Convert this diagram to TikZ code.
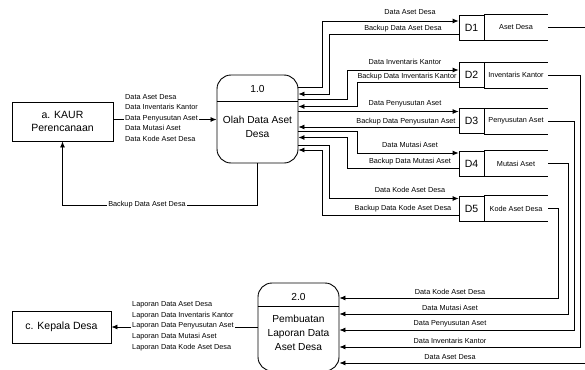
\documentclass[tikz,border=0pt]{standalone}
\usepackage{fontspec}
\setmainfont{Liberation Sans}
\usetikzlibrary{arrows.meta,calc}

\tikzset{
  proc/.style={draw, line width=0.9pt, rounded corners=14pt, minimum width=81pt, minimum height=88pt, inner sep=0pt},
  ent/.style={draw, line width=0.9pt, align=center, inner sep=0pt, font=\fontsize{10.5}{13.5}\selectfont},
  ptext/.style={align=center, inner sep=0pt, font=\fontsize{10.2}{13.5}\selectfont},
  sid/.style={draw, line width=0.8pt, minimum width=25pt, minimum height=25pt, inner sep=0pt, font=\fontsize{10.5}{12}\selectfont},
  sname/.style={minimum width=64pt, inner sep=0pt, font=\fontsize{7.3}{8}\selectfont},
  lbl/.style={inner sep=1pt, font=\fontsize{7.3}{8}\selectfont},
  wire/.style={line width=0.8pt},
  flow/.style={line width=0.8pt, -{Latex[length=6pt,width=5pt]}},
}

\begin{document}
\begin{tikzpicture}[x=1pt, y=-1pt]

\useasboundingbox (0,0) rectangle (585,369);

\node[ent, minimum width=101pt, minimum height=39pt] (kaur) at (62.5,121.5) {a. KAUR\\Perencanaan};
\node[ent, minimum width=99pt, minimum height=32pt] (kepala) at (61.5,327) {c. Kepala Desa};

\node[proc] (olah) at (257.5,119) {};
\draw[wire] (olah.west |- 0,101) -- (olah.east |- 0,101);
\node[ptext] (olahid) at (257.5,89) {1.0};
\node[ptext] (olahtx) at (257.5,127) {Olah Data Aset\\Desa};

\node[proc] (lap) at (298.5,327) {};
\draw[wire] (lap.west |- 0,306) -- (lap.east |- 0,306);
\node[ptext] (lapid) at (298.5,297) {2.0};
\node[ptext, font=\fontsize{10.2}{14}\selectfont] (laptx) at (298.5,333) {Pembuatan\\Laporan Data\\Aset Desa};

\foreach \i/\y/\nm in {1/27.5/Aset Desa, 2/75/Inventaris Kantor, 3/121/Penyusutan Aset, 4/163.5/Mutasi Aset, 5/208.5/Kode Aset Desa}
{
    \node[sid] (d\i) at (471.5,\y) {D\i};
    \node[sname] (n\i) at (516,\y) {\nm};
    \draw[wire] (d\i.north east) -- ++(64,0);
    \draw[wire] (d\i.south east) -- ++(64,0);
}

\draw[flow] (kaur.east |- 0,119.5) -- (olah.west |- 0,119.5);
\node[lbl, fill=white, anchor=west, align=left, font=\fontsize{7.3}{10.5}\selectfont] (inlbl) at (124,118)
    {Data Aset Desa\\Data Inventaris Kantor\\Data Penyusutan Aset\\Data Mutasi Aset\\Data Kode Aset Desa};

\draw[flow] (olah.south) -- ++(0,42) -| (kaur.south);
\node[lbl, fill=white] (bklbl) at (147,205) {Backup Data Aset Desa};

\draw[flow] (olah.east |- 0,87) -| (322,21) -- (d1.west |- 0,21);
\draw[flow] (d1.west |- 0,34) -| (329,94) -- (olah.east |- 0,94);
\draw[flow] (olah.east |- 0,99.5) -| (347,70) -- (d2.west |- 0,70);
\draw[flow] (d2.west |- 0,82.5) -| (357,106.5) -- (olah.east |- 0,106.5);
\draw[flow] (olah.east |- 0,111.5) -- (d3.west |- 0,111.5);
\draw[flow] (d3.west |- 0,127) -- (olah.east |- 0,127);
\draw[flow] (olah.east |- 0,131) -| (357,153) -- (d4.west |- 0,153);
\draw[flow] (d4.west |- 0,168.5) -| (347,137.5) -- (olah.east |- 0,137.5);
\draw[flow] (olah.east |- 0,145) -| (329,198.5) -- (d5.west |- 0,198.5);
\draw[flow] (d5.west |- 0,215.5) -| (322,150) -- (olah.east |- 0,150);

\node[lbl] (f1) at (410,12.5) {Data Aset Desa};
\node[lbl] (b1) at (403,29) {Backup Data Aset Desa};
\node[lbl] (f2) at (405,61.5) {Data Inventaris Kantor};
\node[lbl] (b2) at (407,76.5) {Backup Data Inventaris Kantor};
\node[lbl] (f3) at (405,104) {Data Penyusutan Aset};
\node[lbl] (b3) at (406,121.5) {Backup Data Penyusutan Aset};
\node[lbl] (f4) at (410,145) {Data Mutasi Aset};
\node[lbl] (b4) at (410,162) {Backup Data Mutasi Aset};
\node[lbl] (f5) at (410,190) {Data Kode Aset Desa};
\node[lbl] (b5) at (403,208.5) {Backup Data Kode Aset Desa};

\foreach \i/\vx/\by/\txt in {5/558/298/Data Kode Aset Desa, 4/568/314/Data Mutasi Aset, 3/574/330/Data Penyusutan Aset, 2/580/347/Data Inventaris Kantor, 1/588/363/Data Aset Desa}
{
    \draw[flow] (n\i.east) -| (\vx,\by) -- (lap.east |- 0,\by);
    \node[lbl] (r\i) at (450,\by-6) {\txt};
}

\draw[flow] (lap.west |- kepala.east) -- (kepala.east);
\node[lbl, fill=white, anchor=west, align=left, font=\fontsize{7.3}{10.75}\selectfont] (outlbl) at (131,326)
    {Laporan Data Aset Desa\\Laporan Data Inventaris Kantor\\Laporan Data Penyusutan Aset\\Laporan Data Mutasi Aset\\Laporan Data Kode Aset Desa};

\end{tikzpicture}
\end{document}
